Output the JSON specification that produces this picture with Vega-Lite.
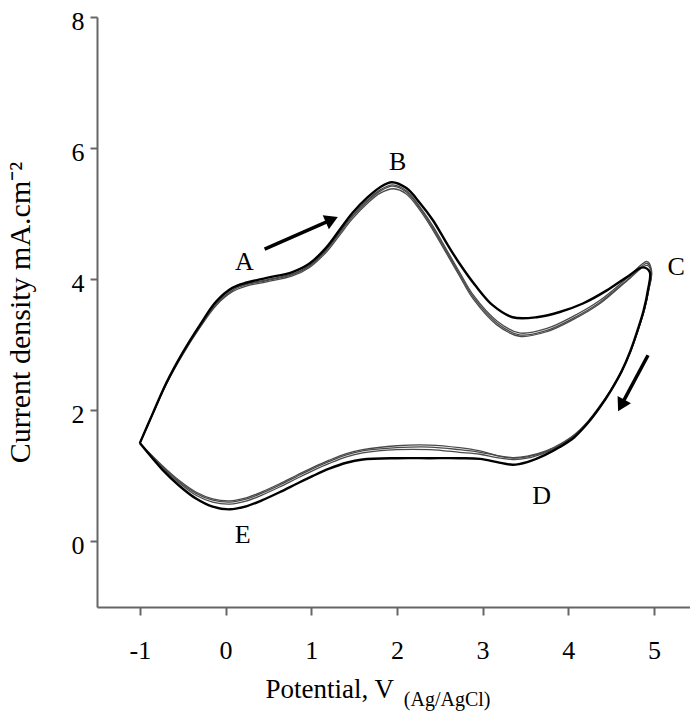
{
  "$schema": "https://vega.github.io/schema/vega-lite/v6.json",
  "autosize": {"type": "none"},
  "padding": {"left": 97, "top": 17, "right": 0, "bottom": 105},
  "width": 593,
  "height": 590,
  "background": "white",
  "config": {"view": {"stroke": null}, "font": "Liberation Serif"},
  "datasets": {
    "cv": [
      {"c":1,"o":1,"v":-1.00,"i":1.50},{"c":1,"o":2,"v":-0.85,"i":1.95},{"c":1,"o":3,"v":-0.69,"i":2.42},{"c":1,"o":4,"v":-0.50,"i":2.88},{"c":1,"o":5,"v":-0.30,"i":3.30},{"c":1,"o":6,"v":-0.11,"i":3.66},{"c":1,"o":7,"v":0.08,"i":3.87},{"c":1,"o":8,"v":0.25,"i":3.95},{"c":1,"o":9,"v":0.48,"i":4.02},{"c":1,"o":10,"v":0.78,"i":4.11},{"c":1,"o":11,"v":0.98,"i":4.24},{"c":1,"o":12,"v":1.18,"i":4.49},{"c":1,"o":13,"v":1.33,"i":4.75},{"c":1,"o":14,"v":1.48,"i":5.01},{"c":1,"o":15,"v":1.65,"i":5.24},{"c":1,"o":16,"v":1.80,"i":5.40},{"c":1,"o":17,"v":1.94,"i":5.48},{"c":1,"o":18,"v":2.11,"i":5.39},{"c":1,"o":19,"v":2.27,"i":5.16},{"c":1,"o":20,"v":2.42,"i":4.90},{"c":1,"o":21,"v":2.58,"i":4.55},{"c":1,"o":22,"v":2.73,"i":4.24},{"c":1,"o":23,"v":2.93,"i":3.88},{"c":1,"o":24,"v":3.12,"i":3.60},{"c":1,"o":25,"v":3.35,"i":3.42},{"c":1,"o":26,"v":3.63,"i":3.42},{"c":1,"o":27,"v":3.90,"i":3.50},{"c":1,"o":28,"v":4.17,"i":3.63},{"c":1,"o":29,"v":4.45,"i":3.83},{"c":1,"o":30,"v":4.68,"i":4.03},{"c":1,"o":31,"v":4.87,"i":4.18},{"c":1,"o":32,"v":4.95,"i":4.11},{"c":1,"o":33,"v":4.93,"i":3.84},{"c":1,"o":34,"v":4.88,"i":3.53},{"c":1,"o":35,"v":4.81,"i":3.23},{"c":1,"o":36,"v":4.72,"i":2.89},{"c":1,"o":37,"v":4.62,"i":2.59},{"c":1,"o":38,"v":4.50,"i":2.31},{"c":1,"o":39,"v":4.37,"i":2.05},{"c":1,"o":40,"v":4.23,"i":1.81},{"c":1,"o":41,"v":4.07,"i":1.59},{"c":1,"o":42,"v":3.90,"i":1.44},{"c":1,"o":43,"v":3.73,"i":1.32},{"c":1,"o":44,"v":3.52,"i":1.21},{"c":1,"o":45,"v":3.35,"i":1.17},{"c":1,"o":46,"v":3.17,"i":1.21},{"c":1,"o":47,"v":2.97,"i":1.26},{"c":1,"o":48,"v":2.73,"i":1.27},{"c":1,"o":49,"v":2.38,"i":1.27},{"c":1,"o":50,"v":2.00,"i":1.27},{"c":1,"o":51,"v":1.60,"i":1.25},{"c":1,"o":52,"v":1.41,"i":1.20},{"c":1,"o":53,"v":1.21,"i":1.11},{"c":1,"o":54,"v":1.02,"i":1.00},{"c":1,"o":55,"v":0.83,"i":0.88},{"c":1,"o":56,"v":0.63,"i":0.75},{"c":1,"o":57,"v":0.43,"i":0.63},{"c":1,"o":58,"v":0.25,"i":0.54},{"c":1,"o":59,"v":0.05,"i":0.49},{"c":1,"o":60,"v":-0.15,"i":0.53},{"c":1,"o":61,"v":-0.34,"i":0.65},{"c":1,"o":62,"v":-0.54,"i":0.85},{"c":1,"o":63,"v":-0.74,"i":1.10},{"c":1,"o":64,"v":-1.00,"i":1.50},

      {"c":2,"o":1,"v":-1.00,"i":1.50},{"c":2,"o":2,"v":-0.85,"i":1.95},{"c":2,"o":3,"v":-0.69,"i":2.41},{"c":2,"o":4,"v":-0.50,"i":2.86},{"c":2,"o":5,"v":-0.30,"i":3.27},{"c":2,"o":6,"v":-0.11,"i":3.62},{"c":2,"o":7,"v":0.08,"i":3.83},{"c":2,"o":8,"v":0.25,"i":3.92},{"c":2,"o":9,"v":0.48,"i":3.98},{"c":2,"o":10,"v":0.78,"i":4.07},{"c":2,"o":11,"v":0.98,"i":4.20},{"c":2,"o":12,"v":1.18,"i":4.45},{"c":2,"o":13,"v":1.33,"i":4.70},{"c":2,"o":14,"v":1.48,"i":4.95},{"c":2,"o":15,"v":1.65,"i":5.18},{"c":2,"o":16,"v":1.80,"i":5.34},{"c":2,"o":17,"v":1.95,"i":5.42},{"c":2,"o":18,"v":2.11,"i":5.33},{"c":2,"o":19,"v":2.27,"i":5.08},{"c":2,"o":20,"v":2.42,"i":4.78},{"c":2,"o":21,"v":2.58,"i":4.42},{"c":2,"o":22,"v":2.73,"i":4.08},{"c":2,"o":23,"v":2.89,"i":3.73},{"c":2,"o":24,"v":3.17,"i":3.33},{"c":2,"o":25,"v":3.43,"i":3.15},{"c":2,"o":26,"v":3.75,"i":3.22},{"c":2,"o":27,"v":4.05,"i":3.40},{"c":2,"o":28,"v":4.37,"i":3.65},{"c":2,"o":29,"v":4.68,"i":3.98},{"c":2,"o":30,"v":4.92,"i":4.24},{"c":2,"o":31,"v":4.97,"i":4.12},{"c":2,"o":32,"v":4.94,"i":3.85},{"c":2,"o":33,"v":4.89,"i":3.55},{"c":2,"o":34,"v":4.82,"i":3.25},{"c":2,"o":35,"v":4.73,"i":2.91},{"c":2,"o":36,"v":4.63,"i":2.61},{"c":2,"o":37,"v":4.51,"i":2.33},{"c":2,"o":38,"v":4.38,"i":2.07},{"c":2,"o":39,"v":4.24,"i":1.83},{"c":2,"o":40,"v":4.08,"i":1.62},{"c":2,"o":41,"v":3.91,"i":1.47},{"c":2,"o":42,"v":3.74,"i":1.36},{"c":2,"o":43,"v":3.52,"i":1.27},{"c":2,"o":44,"v":3.35,"i":1.25},{"c":2,"o":45,"v":3.17,"i":1.28},{"c":2,"o":46,"v":2.97,"i":1.33},{"c":2,"o":47,"v":2.73,"i":1.36},{"c":2,"o":48,"v":2.38,"i":1.40},{"c":2,"o":49,"v":2.00,"i":1.40},{"c":2,"o":50,"v":1.60,"i":1.35},{"c":2,"o":51,"v":1.41,"i":1.29},{"c":2,"o":52,"v":1.21,"i":1.19},{"c":2,"o":53,"v":1.02,"i":1.08},{"c":2,"o":54,"v":0.83,"i":0.96},{"c":2,"o":55,"v":0.63,"i":0.83},{"c":2,"o":56,"v":0.43,"i":0.71},{"c":2,"o":57,"v":0.25,"i":0.62},{"c":2,"o":58,"v":0.05,"i":0.57},{"c":2,"o":59,"v":-0.15,"i":0.60},{"c":2,"o":60,"v":-0.34,"i":0.70},{"c":2,"o":61,"v":-0.54,"i":0.89},{"c":2,"o":62,"v":-0.74,"i":1.13},{"c":2,"o":63,"v":-1.00,"i":1.50},

      {"c":3,"o":1,"v":-1.00,"i":1.50},{"c":3,"o":2,"v":-0.85,"i":1.94},{"c":3,"o":3,"v":-0.69,"i":2.40},{"c":3,"o":4,"v":-0.50,"i":2.85},{"c":3,"o":5,"v":-0.30,"i":3.26},{"c":3,"o":6,"v":-0.11,"i":3.60},{"c":3,"o":7,"v":0.08,"i":3.81},{"c":3,"o":8,"v":0.25,"i":3.90},{"c":3,"o":9,"v":0.48,"i":3.96},{"c":3,"o":10,"v":0.78,"i":4.05},{"c":3,"o":11,"v":0.98,"i":4.18},{"c":3,"o":12,"v":1.18,"i":4.42},{"c":3,"o":13,"v":1.33,"i":4.67},{"c":3,"o":14,"v":1.48,"i":4.92},{"c":3,"o":15,"v":1.65,"i":5.15},{"c":3,"o":16,"v":1.80,"i":5.31},{"c":3,"o":17,"v":1.96,"i":5.38},{"c":3,"o":18,"v":2.11,"i":5.30},{"c":3,"o":19,"v":2.27,"i":5.05},{"c":3,"o":20,"v":2.42,"i":4.75},{"c":3,"o":21,"v":2.58,"i":4.39},{"c":3,"o":22,"v":2.73,"i":4.05},{"c":3,"o":23,"v":2.89,"i":3.70},{"c":3,"o":24,"v":3.17,"i":3.30},{"c":3,"o":25,"v":3.43,"i":3.13},{"c":3,"o":26,"v":3.75,"i":3.20},{"c":3,"o":27,"v":4.05,"i":3.38},{"c":3,"o":28,"v":4.37,"i":3.63},{"c":3,"o":29,"v":4.68,"i":3.97},{"c":3,"o":30,"v":4.92,"i":4.21},{"c":3,"o":31,"v":4.97,"i":4.10},{"c":3,"o":32,"v":4.94,"i":3.84},{"c":3,"o":33,"v":4.89,"i":3.54},{"c":3,"o":34,"v":4.82,"i":3.24},{"c":3,"o":35,"v":4.73,"i":2.91},{"c":3,"o":36,"v":4.63,"i":2.62},{"c":3,"o":37,"v":4.51,"i":2.34},{"c":3,"o":38,"v":4.38,"i":2.09},{"c":3,"o":39,"v":4.24,"i":1.85},{"c":3,"o":40,"v":4.08,"i":1.64},{"c":3,"o":41,"v":3.91,"i":1.49},{"c":3,"o":42,"v":3.74,"i":1.38},{"c":3,"o":43,"v":3.52,"i":1.30},{"c":3,"o":44,"v":3.35,"i":1.28},{"c":3,"o":45,"v":3.17,"i":1.31},{"c":3,"o":46,"v":2.97,"i":1.36},{"c":3,"o":47,"v":2.73,"i":1.40},{"c":3,"o":48,"v":2.38,"i":1.44},{"c":3,"o":49,"v":2.00,"i":1.43},{"c":3,"o":50,"v":1.60,"i":1.38},{"c":3,"o":51,"v":1.41,"i":1.32},{"c":3,"o":52,"v":1.21,"i":1.22},{"c":3,"o":53,"v":1.02,"i":1.11},{"c":3,"o":54,"v":0.83,"i":0.99},{"c":3,"o":55,"v":0.63,"i":0.86},{"c":3,"o":56,"v":0.43,"i":0.74},{"c":3,"o":57,"v":0.25,"i":0.65},{"c":3,"o":58,"v":0.05,"i":0.60},{"c":3,"o":59,"v":-0.15,"i":0.63},{"c":3,"o":60,"v":-0.34,"i":0.73},{"c":3,"o":61,"v":-0.54,"i":0.91},{"c":3,"o":62,"v":-0.74,"i":1.15},{"c":3,"o":63,"v":-1.00,"i":1.50},

      {"c":4,"o":1,"v":-1.00,"i":1.50},{"c":4,"o":2,"v":-0.85,"i":1.95},{"c":4,"o":3,"v":-0.69,"i":2.42},{"c":4,"o":4,"v":-0.50,"i":2.87},{"c":4,"o":5,"v":-0.30,"i":3.28},{"c":4,"o":6,"v":-0.11,"i":3.64},{"c":4,"o":7,"v":0.08,"i":3.85},{"c":4,"o":8,"v":0.25,"i":3.93},{"c":4,"o":9,"v":0.48,"i":3.99},{"c":4,"o":10,"v":0.78,"i":4.08},{"c":4,"o":11,"v":0.98,"i":4.21},{"c":4,"o":12,"v":1.18,"i":4.46},{"c":4,"o":13,"v":1.33,"i":4.72},{"c":4,"o":14,"v":1.48,"i":4.97},{"c":4,"o":15,"v":1.65,"i":5.20},{"c":4,"o":16,"v":1.80,"i":5.36},{"c":4,"o":17,"v":1.95,"i":5.44},{"c":4,"o":18,"v":2.11,"i":5.35},{"c":4,"o":19,"v":2.27,"i":5.10},{"c":4,"o":20,"v":2.42,"i":4.81},{"c":4,"o":21,"v":2.58,"i":4.45},{"c":4,"o":22,"v":2.73,"i":4.11},{"c":4,"o":23,"v":2.89,"i":3.76},{"c":4,"o":24,"v":3.17,"i":3.36},{"c":4,"o":25,"v":3.43,"i":3.18},{"c":4,"o":26,"v":3.75,"i":3.25},{"c":4,"o":27,"v":4.05,"i":3.43},{"c":4,"o":28,"v":4.37,"i":3.68},{"c":4,"o":29,"v":4.68,"i":4.01},{"c":4,"o":30,"v":4.92,"i":4.27},{"c":4,"o":31,"v":4.97,"i":4.14},{"c":4,"o":32,"v":4.94,"i":3.86},{"c":4,"o":33,"v":4.89,"i":3.55},{"c":4,"o":34,"v":4.82,"i":3.25},{"c":4,"o":35,"v":4.73,"i":2.92},{"c":4,"o":36,"v":4.63,"i":2.62},{"c":4,"o":37,"v":4.51,"i":2.34},{"c":4,"o":38,"v":4.38,"i":2.08},{"c":4,"o":39,"v":4.24,"i":1.84},{"c":4,"o":40,"v":4.08,"i":1.63},{"c":4,"o":41,"v":3.91,"i":1.48},{"c":4,"o":42,"v":3.74,"i":1.37},{"c":4,"o":43,"v":3.52,"i":1.29},{"c":4,"o":44,"v":3.35,"i":1.27},{"c":4,"o":45,"v":3.17,"i":1.31},{"c":4,"o":46,"v":2.97,"i":1.38},{"c":4,"o":47,"v":2.73,"i":1.43},{"c":4,"o":48,"v":2.38,"i":1.47},{"c":4,"o":49,"v":2.00,"i":1.46},{"c":4,"o":50,"v":1.60,"i":1.40},{"c":4,"o":51,"v":1.41,"i":1.34},{"c":4,"o":52,"v":1.21,"i":1.24},{"c":4,"o":53,"v":1.02,"i":1.13},{"c":4,"o":54,"v":0.83,"i":1.01},{"c":4,"o":55,"v":0.63,"i":0.88},{"c":4,"o":56,"v":0.43,"i":0.76},{"c":4,"o":57,"v":0.25,"i":0.67},{"c":4,"o":58,"v":0.05,"i":0.62},{"c":4,"o":59,"v":-0.15,"i":0.65},{"c":4,"o":60,"v":-0.34,"i":0.75},{"c":4,"o":61,"v":-0.54,"i":0.93},{"c":4,"o":62,"v":-0.74,"i":1.16},{"c":4,"o":63,"v":-1.00,"i":1.50}
    ],
    "labels": [
      {"t":"A","v":0.22,"i":4.26},
      {"t":"B","v":2.01,"i":5.79},
      {"t":"C","v":5.26,"i":4.18},
      {"t":"D","v":3.69,"i":0.69},
      {"t":"E","v":0.20,"i":0.10}
    ],
    "arrows": [
      {"a":1,"v":0.456,"i":4.46,"v2":1.24,"i2":4.91},
      {"a":2,"v":4.93,"i":2.84,"v2":4.617,"i2":2.075}
    ],
    "sub": [
      {"t":"(Ag/AgCl)","v":2.08,"i":-2.51}
    ]
  },
  "layer": [
    {
      "data": {"name": "cv"},
      "transform": [{"filter": "datum.c > 1"}],
      "mark": {"type": "line", "color": "#4a4a4a", "strokeWidth": 1.3, "interpolate": "catmull-rom"},
      "encoding": {
        "x": {"field": "v", "type": "quantitative", "scale": {"domain": [-1.5, 5.42], "nice": false, "zero": false},
              "axis": {"title": "Potential, V", "values": [-1, 0, 1, 2, 3, 4, 5], "grid": false,
                       "labelExpr": "'' + datum.value",
                       "domainColor": "#666", "domainWidth": 2, "tickColor": "#666", "tickWidth": 2, "tickSize": 8,
                       "labelFont": "Liberation Serif", "labelFontSize": 26, "labelColor": "#000", "labelPadding": 22,
                       "titleFont": "Liberation Serif", "titleFontSize": 27, "titleFontWeight": "normal", "titleColor": "#000",
                       "titleAlign": "right", "titleAnchor": "middle", "titlePadding": 13}},
        "y": {"field": "i", "type": "quantitative", "scale": {"domain": [-1, 8], "nice": false, "zero": false},
              "axis": {"title": "Current density mA.cm⁻²", "values": [0, 2, 4, 6, 8], "grid": false,
                       "labelExpr": "'' + datum.value",
                       "domainColor": "#666", "domainWidth": 2, "tickColor": "#666", "tickWidth": 2, "tickSize": 7,
                       "labelFont": "Liberation Serif", "labelFontSize": 26, "labelColor": "#000", "labelPadding": 6, "labelOffset": 4,
                       "titleFont": "Liberation Serif", "titleFontSize": 30, "titleFontWeight": "normal", "titleColor": "#000",
                       "titlePadding": 36}},
        "detail": {"field": "c", "type": "nominal"},
        "order": {"field": "o", "type": "quantitative"}
      }
    },
    {
      "data": {"name": "cv"},
      "transform": [{"filter": "datum.c == 1"}],
      "mark": {"type": "line", "color": "#000", "strokeWidth": 2.4, "interpolate": "catmull-rom"},
      "encoding": {
        "x": {"field": "v", "type": "quantitative"},
        "y": {"field": "i", "type": "quantitative"},
        "order": {"field": "o", "type": "quantitative"}
      }
    },
    {
      "mark": {"type": "rule", "color": "#666", "strokeWidth": 2},
      "encoding": {"y": {"datum": 8}}
    },
    {
      "data": {"name": "labels"},
      "mark": {"type": "text", "font": "Liberation Serif", "fontSize": 26, "color": "#000", "align": "center", "baseline": "middle"},
      "encoding": {
        "x": {"field": "v", "type": "quantitative"},
        "y": {"field": "i", "type": "quantitative"},
        "text": {"field": "t"}
      }
    },
    {
      "data": {"name": "arrows"},
      "mark": {"type": "rule", "color": "#000", "strokeWidth": 3.5},
      "encoding": {
        "x": {"field": "v", "type": "quantitative"},
        "y": {"field": "i", "type": "quantitative"},
        "x2": {"field": "v2"},
        "y2": {"field": "i2"}
      }
    },
    {
      "data": {"name": "arrows"},
      "transform": [{"filter": "datum.a == 1"}],
      "mark": {"type": "point", "shape": "triangle-up", "filled": true, "color": "#000", "size": 230, "angle": 66, "opacity": 1},
      "encoding": {
        "x": {"field": "v2", "type": "quantitative"},
        "y": {"field": "i2", "type": "quantitative"}
      }
    },
    {
      "data": {"name": "arrows"},
      "transform": [{"filter": "datum.a == 2"}],
      "mark": {"type": "point", "shape": "triangle-up", "filled": true, "color": "#000", "size": 230, "angle": 208, "opacity": 1},
      "encoding": {
        "x": {"field": "v2", "type": "quantitative"},
        "y": {"field": "i2", "type": "quantitative"}
      }
    },
    {
      "data": {"name": "sub"},
      "mark": {"type": "text", "font": "Liberation Serif", "fontSize": 20, "color": "#000", "align": "left", "baseline": "alphabetic", "clip": false},
      "encoding": {
        "x": {"field": "v", "type": "quantitative"},
        "y": {"field": "i", "type": "quantitative"},
        "text": {"field": "t"}
      }
    }
  ]
}
